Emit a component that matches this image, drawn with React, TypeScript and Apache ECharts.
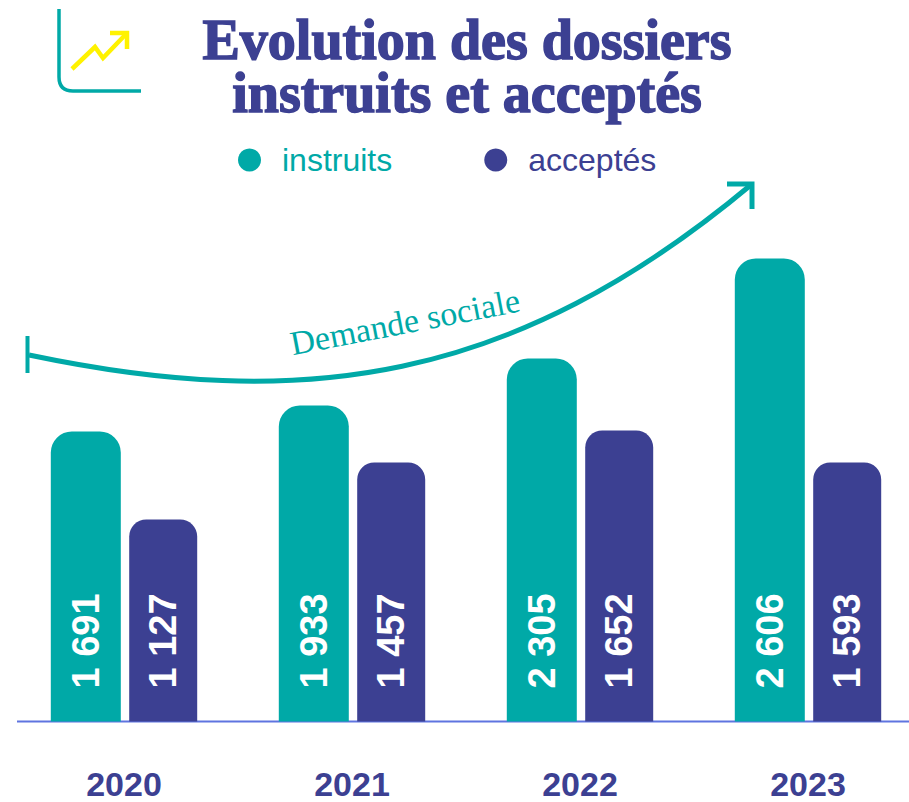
import React, { useEffect, useRef } from "react";
import * as echarts from "echarts";

const TEAL = "#00a9a7";
const NAVY = "#3c4092";

const years = ["2020", "2021", "2022", "2023"];
// Printed figures, shown as the labels.
const instruitsLabels = ["1 691", "1 933", "2 305", "2 606"];
const acceptesLabels = ["1 127", "1 457", "1 652", "1 593"];
// Bar heights as drawn in the picture (the artwork is not strictly proportional to its labels).
const instruitsHeights = [290, 316, 363, 463];
const acceptesHeights = [202, 259, 291, 259];

echarts.graphic.registerShape(
  "cornerAxis",
  echarts.graphic.extendPath("M59 9 V77 Q59 91 73 91 H141", {})
);

export default function App() {
  const ref = useRef<HTMLDivElement>(null);
  useEffect(() => {
    document.body.style.margin = "0";
    const chart = echarts.init(ref.current!, null, { renderer: "svg" });
    const barLabel = (labels: string[]) => ({
      show: true,
      position: "insideBottom",
      rotate: 90,
      align: "left",
      verticalAlign: "middle",
      distance: 33,
      color: "#ffffff",
      fontFamily: "Liberation Sans",
      fontWeight: "bold",
      fontSize: 38,
      formatter: (p: any) => labels[p.dataIndex],
    });
    chart.setOption({
      animation: false,
      title: {
        text: "Evolution des dossiers\ninstruits et acceptés",
        left: 462,
        top: 8,
        textAlign: "center",
        textStyle: {
          color: NAVY,
          fontFamily: "Liberation Serif",
          fontWeight: "bold",
          fontSize: 56,
          lineHeight: 53,
          textBorderColor: NAVY,
          textBorderWidth: 1.5,
        },
      },
      legend: {
        left: 238,
        top: 144,
        padding: 0,
        itemWidth: 23,
        itemHeight: 23,
        itemGap: 92,
        icon: "circle",
        data: [
          { name: "instruits", textStyle: { color: TEAL } },
          { name: "acceptés", textStyle: { color: NAVY } },
        ],
        textStyle: {
          fontFamily: "Liberation Sans",
          fontSize: 32,
          padding: [0, 0, 0, 16],
        },
      },
      grid: { left: 10, width: 912, top: 21.5, height: 700, outerBoundsMode: "none" },
      xAxis: {
        type: "category",
        data: years,
        axisLine: { show: false },
        axisTick: { show: false },
        axisLabel: {
          margin: 45,
          color: NAVY,
          fontFamily: "Liberation Sans",
          fontWeight: "bold",
          fontSize: 34,
        },
      },
      yAxis: { type: "value", min: 0, max: 700, show: false },
      series: [
        {
          name: "instruits",
          type: "bar",
          barWidth: 70,
          barGap: "12%",
          data: instruitsHeights,
          itemStyle: { color: TEAL, borderRadius: [21, 21, 0, 0] },
          label: barLabel(instruitsLabels),
        },
        {
          name: "acceptés",
          type: "bar",
          barWidth: 68,
          data: acceptesHeights,
          itemStyle: { color: NAVY, borderRadius: [17, 17, 0, 0] },
          label: barLabel(acceptesLabels),
        },
      ],
      graphic: [
        {
          type: "line",
          shape: { x1: 17, y1: 721.5, x2: 909, y2: 721.5 },
          style: { stroke: "#5f74e0", lineWidth: 2 },
        },
        {
          type: "cornerAxis",
          style: { fill: "none", stroke: TEAL, lineWidth: 3.5 },
        },
        {
          type: "polyline",
          shape: { points: [[72, 69], [95, 47], [103, 58], [127, 33]] },
          style: { fill: "none", stroke: "#fff200", lineWidth: 4.5 },
        },
        {
          type: "polyline",
          shape: { points: [[110, 33], [127, 33], [127, 49]] },
          style: { fill: "none", stroke: "#fff200", lineWidth: 4.5 },
        },
        {
          type: "line",
          shape: { x1: 27.5, y1: 336, x2: 27.5, y2: 373 },
          style: { stroke: TEAL, lineWidth: 4 },
        },
        {
          type: "bezierCurve",
          shape: {
            x1: 29, y1: 355,
            cpx1: 300, cpy1: 412,
            cpx2: 512, cpy2: 385,
            x2: 752, y2: 184,
          },
          style: { fill: "none", stroke: TEAL, lineWidth: 5 },
        },
        {
          type: "polyline",
          shape: { points: [[727, 184], [752, 184], [752, 209]] },
          style: { fill: "none", stroke: TEAL, lineWidth: 5 },
        },
        {
          type: "text",
          x: 405,
          y: 322,
          rotation: 0.19,
          style: {
            text: "Demande sociale",
            fill: TEAL,
            font: "34px 'Liberation Serif'",
            align: "center",
            verticalAlign: "middle",
          },
        },
      ],
    });
    return () => chart.dispose();
  }, []);
  return <div ref={ref} style={{ width: 909, height: 802 }} />;
}
